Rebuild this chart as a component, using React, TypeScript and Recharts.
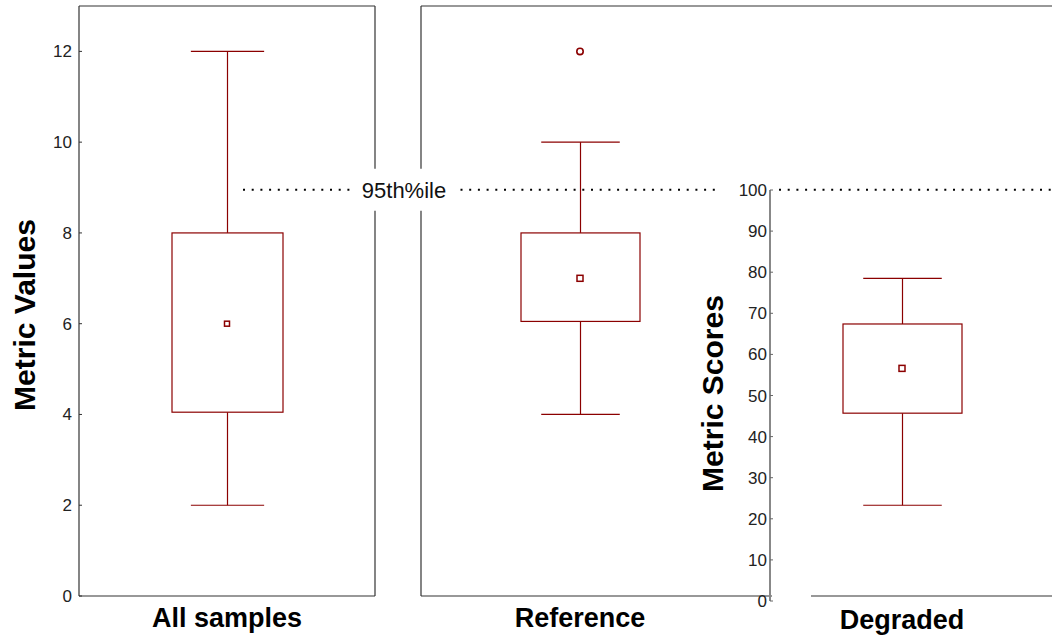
import {
  ComposedChart,
  Bar,
  Scatter,
  XAxis,
  YAxis,
  ReferenceLine,
} from "recharts";

// box-plot summary per group
const groups = ["All samples", "Reference", "Degraded"];
const whiskerLow = [2, 4, 23.3];
const whiskerHigh = [12, 10, 78.5];
const boxLow = [4.05, 6.05, 45.7];
const boxHigh = [8, 8, 67.4];
const means = [6, 7, 56.6];
const outliers = [null, 12, null];

const valueTicks = [0, 2, 4, 6, 8, 10, 12];
const scoreTicks = [0, 10, 20, 30, 40, 50, 60, 70, 80, 90, 100];
const valueMax = 13;
const p95Value = 8.95;
const p95Label = "95th%ile";

const RED = "#8B0000";
const FRAME = "#333";
const FONT = "'Liberation Sans', Arial, sans-serif";

const row = (i: number) => ({
  name: groups[i],
  range: [whiskerLow[i], whiskerHigh[i]],
  q1: boxLow[i],
  q3: boxHigh[i],
  mean: means[i],
  outlier: outliers[i],
});

const BoxShape = (props: any) => {
  const { x, y, width, height, payload } = props;
  const [lo, hi] = payload.range;
  const yHi = Math.min(y, y + height);
  const yLo = Math.max(y, y + height);
  const pos = (v: number) => yHi + ((hi - v) / (hi - lo)) * (yLo - yHi);
  const cx = x + width / 2;
  const cap = width * 0.33;
  const top = pos(payload.q3);
  const bot = pos(payload.q1);
  return (
    <g stroke={RED} strokeWidth={1.2}>
      <line x1={cx} x2={cx} y1={yHi} y2={top} />
      <line x1={cx} x2={cx} y1={bot} y2={yLo} />
      <line x1={cx - cap} x2={cx + cap} y1={yHi} y2={yHi} />
      <line x1={cx - cap} x2={cx + cap} y1={yLo} y2={yLo} />
      <rect x={x} y={top} width={width} height={bot - top} fill="#fff" />
    </g>
  );
};

const meanMark = (size: number) => (p: any) =>
  (
    <rect
      x={p.cx - size / 2}
      y={p.cy - size / 2}
      width={size}
      height={size}
      fill="#fff"
      stroke={RED}
      strokeWidth={1.5}
    />
  );

const OutlierMark = (p: any) => (
  <circle cx={p.cx} cy={p.cy} r={3.2} fill="#fff" stroke={RED} strokeWidth={1.6} />
);

const xTick = { fontSize: 27, fontWeight: 700, fill: "#000", fontFamily: FONT };
const yTick = { fontSize: 17, fill: "#222", fontFamily: FONT };
const axisTitle = { fontSize: 30, fontWeight: 700, fill: "#000", fontFamily: FONT };

const abs = (left: number): React.CSSProperties => ({
  position: "absolute",
  left,
  top: 0,
});

// the 95th percentile level, spread across the page width (page pixels on x)
const p95Span = [
  { x: 0, y: p95Value },
  { x: 1052, y: p95Value },
];

export default function App() {
  return (
    <div
      style={{
        position: "absolute",
        left: 0,
        top: 0,
        width: 1052,
        height: 638,
        background: "#fff",
        fontFamily: FONT,
      }}
    >
      {/* left panel: all samples */}
      <div style={abs(0)}>
        <ComposedChart
          width={400}
          height={638}
          data={[row(0)]}
          margin={{ top: 6, right: 0, bottom: 0, left: 19 }}
        >
          <XAxis
            dataKey="name"
            height={42}
            tickLine={false}
            tickSize={0}
            tickMargin={12}
            axisLine={{ stroke: FRAME, strokeWidth: 1.2 }}
            tick={xTick}
          />
          <YAxis
            yAxisId={0}
            width={60}
            domain={[0, valueMax]}
            ticks={valueTicks}
            tickSize={-3}
            tickMargin={10}
            axisLine={{ stroke: FRAME, strokeWidth: 1.2 }}
            tickLine={{ stroke: FRAME }}
            tick={yTick}
            label={{
              value: "Metric Values",
              angle: -90,
              position: "center",
              dx: -25,
              dy: 14,
              style: axisTitle,
            }}
          />
          <YAxis
            yAxisId="r"
            orientation="right"
            width={25}
            domain={[0, valueMax]}
            ticks={valueTicks}
            tickSize={-3}
            tick={false}
            axisLine={{ stroke: FRAME, strokeWidth: 1.2 }}
            tickLine={{ stroke: FRAME }}
          />
          <ReferenceLine y={valueMax} stroke={FRAME} strokeWidth={1.2} />
          <Bar dataKey="range" barSize={111} shape={BoxShape} isAnimationActive={false} />
          <Scatter dataKey="mean" shape={meanMark(5)} isAnimationActive={false} />
        </ComposedChart>
      </div>

      {/* middle panel: reference */}
      <div style={abs(400)}>
        <ComposedChart
          width={652}
          height={638}
          data={[row(1)]}
          margin={{ top: 6, right: 0, bottom: 0, left: 0 }}
        >
          <XAxis
            dataKey="name"
            height={42}
            padding={{ left: 0, right: 313 }}
            tickLine={false}
            tickSize={0}
            tickMargin={12}
            axisLine={{ stroke: FRAME, strokeWidth: 1.2 }}
            tick={xTick}
          />
          <YAxis
            width={21}
            domain={[0, valueMax]}
            ticks={valueTicks}
            tickSize={-3}
            tick={false}
            axisLine={{ stroke: FRAME, strokeWidth: 1.2 }}
            tickLine={{ stroke: FRAME }}
          />
          <ReferenceLine y={valueMax} stroke={FRAME} strokeWidth={1.2} />
          <Bar dataKey="range" barSize={119} shape={BoxShape} isAnimationActive={false} />
          <Scatter dataKey="mean" shape={meanMark(6)} isAnimationActive={false} />
          <Scatter dataKey="outlier" shape={OutlierMark} isAnimationActive={false} />
        </ComposedChart>
      </div>

      {/* right panel: degraded, own score axis */}
      <div style={abs(670)}>
        <ComposedChart
          width={382}
          height={638}
          data={[row(2)]}
          margin={{ top: 190, right: 0, bottom: 0, left: 50 }}
        >
          <XAxis
            dataKey="name"
            height={37}
            padding={{ left: 0, right: 18 }}
            axisLine={false}
            tickLine={false}
            tickSize={0}
            tickMargin={9}
            tick={xTick}
          />
          <YAxis
            width={50}
            domain={[0, 100]}
            ticks={scoreTicks}
            tickSize={-3}
            tickMargin={6}
            axisLine={{ stroke: "#888", strokeWidth: 2 }}
            tickLine={{ stroke: "#666" }}
            tick={yTick}
            label={{
              value: "Metric Scores",
              angle: -90,
              position: "center",
              dx: -33,
              dy: -2,
              style: axisTitle,
            }}
          />
          <Bar dataKey="range" barSize={119} shape={BoxShape} isAnimationActive={false} />
          <Scatter dataKey="mean" shape={meanMark(6)} isAnimationActive={false} />
        </ComposedChart>
      </div>

      {/* 95th percentile line across panels */}
      <div style={{ ...abs(0), pointerEvents: "none" }}>
        <ComposedChart
          width={1052}
          height={638}
          data={p95Span}
          margin={{ top: 6, right: 0, bottom: 42, left: 0 }}
        >
          <XAxis type="number" dataKey="x" domain={[0, 1052]} allowDataOverflow hide />
          <YAxis type="number" domain={[0, valueMax]} allowDataOverflow hide />
          <Scatter dataKey="y" shape={() => <g />} isAnimationActive={false} />
          {/* gap in the baseline between the score axis and the degraded axis */}
          <ReferenceLine
            ifOverflow="visible"
            segment={[
              { x: 772, y: 0 },
              { x: 811, y: 0 },
            ]}
            stroke="#fff"
            strokeWidth={3}
          />
          <ReferenceLine
            ifOverflow="visible"
            segment={[
              { x: 243, y: p95Value },
              { x: 716, y: p95Value },
            ]}
            stroke="#000"
            strokeWidth={2}
            strokeDasharray="2 6.7"
          />
          <ReferenceLine
            ifOverflow="visible"
            segment={[
              { x: 779, y: p95Value },
              { x: 1052, y: p95Value },
            ]}
            stroke="#000"
            strokeWidth={2}
            strokeDasharray="2 6.7"
          />
          <ReferenceLine
            ifOverflow="visible"
            segment={[
              { x: 351, y: p95Value },
              { x: 457, y: p95Value },
            ]}
            stroke="#fff"
            strokeWidth={42}
            label={{
              value: p95Label,
              position: "center",
              fontSize: 22,
              fill: "#111",
              fontFamily: FONT,
            }}
          />
        </ComposedChart>
      </div>
    </div>
  );
}
